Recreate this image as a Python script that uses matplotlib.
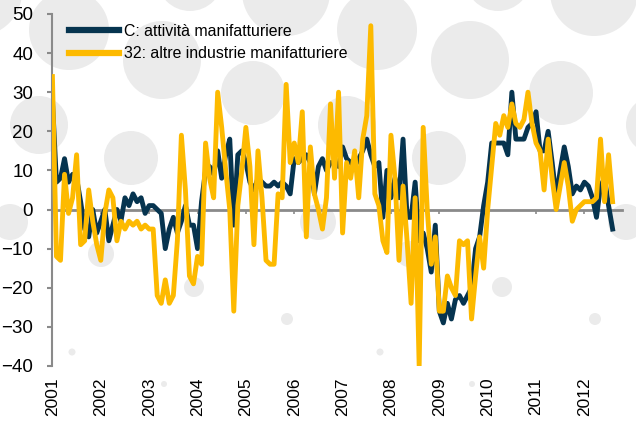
import numpy as np
import matplotlib
matplotlib.use("Agg")
from matplotlib import pyplot as plt
from matplotlib.patches import Circle

plt.rcParams['font.family'] = ['Liberation Sans', 'DejaVu Sans']

# monthly values, Jan 2001 - Aug 2012
manif = [28, 7, 8, 13, 7, 9, 8, 2, -5, -7,
         0, -6, -3, 0, -8, -4, 0, -3, 3, 1,
         4, 2, 3, -1, 1, 1, 0, -1, -10, -5,
         -2, -6, -3, 1, -4, -4, -10, 2, 10, 11,
         9, 15, 8, 14, 18, -4, 14, 15, 12, 7,
         5, 8, 7, 6, 6, 7, 6, 7, 6, 4,
         13, 12, 13, 14, 12, 4, 11, 13, 10, 12,
         12, 11, 16, 13, 12, 11, 13, 15, 18, 14,
         11, 12, -2, 10, 3, 8, 3, 18, -2, -2,
         7, -8, -6, -10, -16, -4, -26, -29, -24, -28,
         -23, -22, -24, -22, -20, -10, -7, 1, 7, 17,
         17, 17, 17, 14, 30, 18, 18, 18, 21, 22,
         25, 15, 15, 20, 12, 3, 10, 16, 11, 4,
         6, 5, 7, 6, 3, -2, 6, 8, 1, -5]

altre = [34, -12, -13, 9, -1, 3, 14, -9, -8, 5,
         -3, -9, -13, -1, 5, 3, -8, -3, -5, -3,
         -4, -3, -5, -4, -5, -5, -22, -24, -18, -24,
         -22, -8, 19, 5, -17, -19, -12, -14, 17, 8,
         3, 30, 21, 10, 0, -26, 1, 10, 21, 11,
         -9, 15, 3, -13, -14, -14, 4, 3, 32, 12,
         17, 12, 25, -7, 16, 4, 0, -5, 3, 27,
         8, 30, -6, 12, 8, 15, 3, 18, 24, 47,
         4, 1, -8, -11, 19, 8, -13, 6, -8, -24,
         3, -40, 21, 0, -14, -7, -26, -26, -17, -20,
         -22, -8, -9, -8, -28, -17, -7, -15, 0, 11,
         22, 19, 24, 21, 27, 22, 21, 23, 30, 22,
         17, 15, 5, 18, 8, 0, 6, 12, 6, -3,
         0, 1, 2, 2, 2, 3, 18, 2, 14, 2]

years = [str(y) for y in range(2001, 2013)]
labels = ["C: attività manifatturiere", "32: altre industrie manifatturiere"]

navy = "#06344f"
gold = "#fdba00"
grey = "#8a8a8a"

fig = plt.figure(figsize=(6.36, 4.24), dpi=100)

# decorative background dots (pixel coords of one tile, repeated)
dots = [(69, 30, 40), (162, 60, 39), (39, 125, 29), (131, 158, 27),
        (253, 93, 32), (10, 222, 18), (101, 254, 13), (194, 287, 10),
        (287, 319, 6), (72, 352, 3.5), (164, 384, 3), (-22, -8, 44),
        (190, -22, 33)]
for k in range(3):
    for cx, cy, r in dots:
        c = Circle(((cx + 308 * k) / 100, (424 - cy) / 100), r / 100,
                   transform=fig.dpi_scale_trans, color="#ebebeb",
                   zorder=-5, lw=0)
        fig.add_artist(c)

ax = fig.add_axes([0.0818, 0.137, 0.896, 0.830])
ax.patch.set_alpha(0)

x = np.arange(len(manif))
ax.plot(x, manif, color=navy, lw=3.5, label=labels[0], zorder=3)
ax.plot(x, altre, color=gold, lw=3.5, label=labels[1], zorder=4)

ax.set_ylim(-40, 50)
ax.set_yticks(range(-40, 51, 10))
ax.set_xlim(-0.1, 141.3)

for s in ['top', 'right']:
    ax.spines[s].set_visible(False)
ax.spines['left'].set_color(grey)
ax.spines['left'].set_linewidth(1.5)
ax.spines['bottom'].set_position(('data', 0))
ax.spines['bottom'].set_color(grey)
ax.spines['bottom'].set_linewidth(2)

ax.set_xticks(range(0, 133, 12))
ax.tick_params(axis='x', direction='out', length=3, width=1.2, color=grey,
               labelbottom=False)
ax.tick_params(axis='y', direction='out', length=3.6, width=1.5, color=grey,
               labelsize=13.5, pad=10)

sec = ax.secondary_xaxis(0.0)
sec.set_xticks(range(0, 133, 12), years, rotation=90)
sec.spines['bottom'].set_visible(False)
sec.tick_params(length=0, labelsize=12.5, pad=8)

leg = ax.legend(loc='upper left', bbox_to_anchor=(0.004, 1.012), frameon=False,
                fontsize=11.4, handlelength=3.2, handletextpad=0.3,
                labelspacing=0.45)
for h in leg.get_lines():
    h.set_linewidth(4.5)

fig.savefig("out.png", dpi=100)
